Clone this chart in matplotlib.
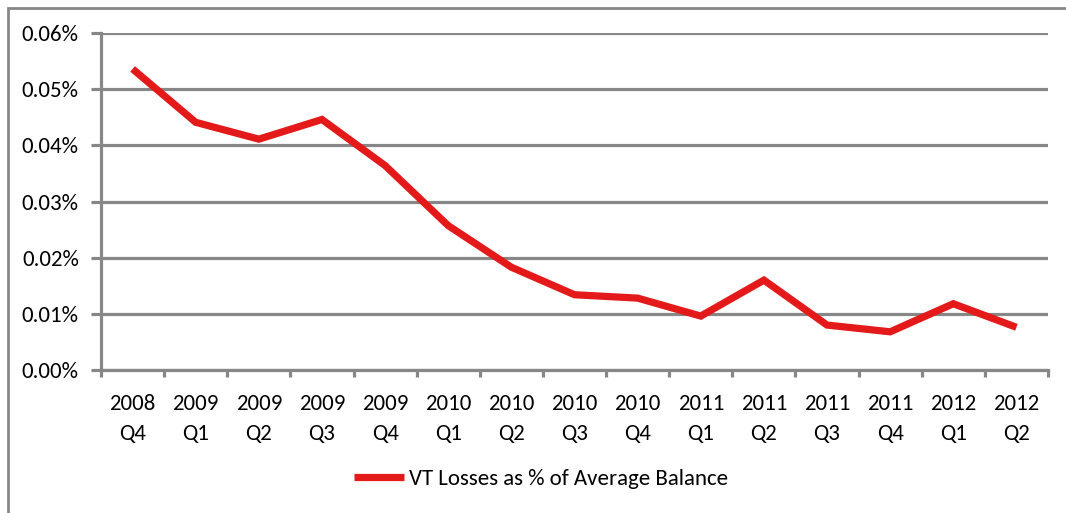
import matplotlib
matplotlib.use("Agg")
import matplotlib.pyplot as plt
from matplotlib.ticker import FixedLocator, FuncFormatter
from matplotlib.patches import Rectangle

plt.rcParams['font.family'] = ['Carlito', 'Liberation Sans Narrow', 'DejaVu Sans']

categories = ["2008\nQ4", "2009\nQ1", "2009\nQ2", "2009\nQ3", "2009\nQ4",
              "2010\nQ1", "2010\nQ2", "2010\nQ3", "2010\nQ4", "2011\nQ1",
              "2011\nQ2", "2011\nQ3", "2011\nQ4", "2012\nQ1", "2012\nQ2"]
losses_pct = [0.0536, 0.0441, 0.0411, 0.0446, 0.0364,
              0.0257, 0.0183, 0.0134, 0.0128, 0.0096,
              0.0160, 0.0080, 0.0068, 0.0118, 0.0076]
y_ticks = [0.00, 0.01, 0.02, 0.03, 0.04, 0.05, 0.06]
series_name = "VT Losses as % of Average Balance"

GRAY = "#878787"
RED = "#E41A1A"
FS = 16.5

fig = plt.figure(figsize=(10.66, 5.13), dpi=100)
fig.patches.append(Rectangle((8/1066, -0.1), 1.2, 1 - 8/513 + 0.1,
                             transform=fig.transFigure, fill=False,
                             edgecolor=GRAY, linewidth=2.0, zorder=0))
ax = fig.add_axes([101/1066, 1 - 370/513, (1048 - 101)/1066, (370 - 33)/513])

x = list(range(len(categories)))
ax.plot(x, losses_pct, color=RED, linewidth=5.2, solid_joinstyle='miter',
        solid_capstyle='butt', label=series_name, zorder=3)

ax.set_xlim(-0.5, len(categories) - 0.5)
ax.set_ylim(0, 0.06)
ax.set_yticks(y_ticks)
ax.yaxis.set_major_formatter(FuncFormatter(lambda v, p: f"{v:.2f}%"))
ax.set_xticks(x)
ax.set_xticklabels(categories, linespacing=1.63)
ax.xaxis.set_minor_locator(FixedLocator([i - 0.5 for i in range(len(categories) + 1)]))

ax.grid(axis='y', color=GRAY, linewidth=2.3, zorder=1)
for s in ['top', 'right']:
    ax.spines[s].set_visible(False)
for s in ['left', 'bottom']:
    ax.spines[s].set_color(GRAY)
    ax.spines[s].set_linewidth(2.3)
ax.tick_params(axis='y', direction='out', length=7, width=2.3, color=GRAY,
               pad=9, labelsize=FS, labelcolor='black')
ax.tick_params(axis='x', which='major', length=0, pad=17, labelsize=FS,
               labelcolor='black')
ax.tick_params(axis='x', which='minor', direction='out', length=5, width=2.3,
               color=GRAY)

leg = fig.legend(loc='center', bbox_to_anchor=(541/1066, 1 - 479/513),
                 frameon=False, fontsize=FS, handlelength=2.2, handletextpad=0.2)

fig.savefig("out.png", dpi=100)
